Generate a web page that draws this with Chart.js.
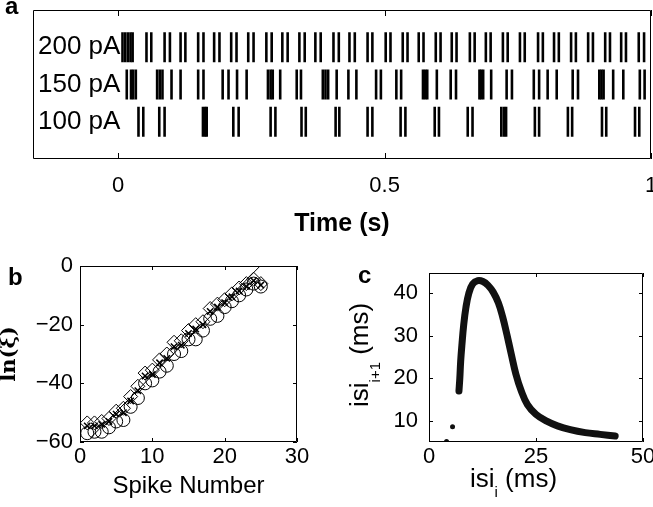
<!DOCTYPE html>
<html>
<head>
<meta charset="utf-8">
<script src="https://cdn.jsdelivr.net/npm/chart.js@4.4.1/dist/chart.umd.min.js"></script>
<style>
  body { margin: 0; background: #fff; }
  #wrap { position: relative; width: 653px; height: 507px; }
  #wrap canvas { position: absolute; left: 0; top: 0; }
</style>
</head>
<body>
<div id="wrap">
  <canvas id="rasterChart" width="653" height="507"></canvas>
  <canvas id="lnChart" width="653" height="507"></canvas>
  <canvas id="isiChart" width="653" height="507"></canvas>
</div>
<script>
// ---- panel a: spike times (s) per injected current ----
const rowLabels = ['100 pA', '150 pA', '200 pA'];
const timeTicks = [0, 0.5, 1];
const spikes200 = [0.008, 0.013, 0.018, 0.023, 0.027, 0.053, 0.062, 0.087, 0.097, 0.117, 0.126,
  0.150, 0.160, 0.180, 0.190, 0.212, 0.222, 0.244, 0.254, 0.278, 0.288, 0.308, 0.318, 0.340, 0.350,
  0.370, 0.380, 0.404, 0.414, 0.434, 0.444, 0.468, 0.477, 0.502, 0.511, 0.534, 0.543, 0.564, 0.573,
  0.596, 0.605, 0.626, 0.635, 0.660, 0.669, 0.690, 0.699, 0.722, 0.731, 0.754, 0.763, 0.788, 0.797,
  0.818, 0.827, 0.850, 0.859, 0.882, 0.891, 0.914, 0.923, 0.944, 0.953, 0.977, 0.987];
const spikes150 = [0.016, 0.024, 0.028, 0.033, 0.073, 0.078, 0.083, 0.100, 0.117, 0.150, 0.160,
  0.196, 0.207, 0.223, 0.241, 0.281, 0.286, 0.290, 0.304, 0.335, 0.343, 0.384, 0.389, 0.394, 0.410,
  0.432, 0.447, 0.484, 0.493, 0.522, 0.531, 0.572, 0.576, 0.580, 0.598, 0.624, 0.634, 0.678, 0.681,
  0.685, 0.700, 0.729, 0.739, 0.780, 0.790, 0.806, 0.823, 0.853, 0.863, 0.903, 0.907, 0.911, 0.929,
  0.948, 0.979, 0.988];
const spikes100 = [0.038, 0.047, 0.077, 0.087, 0.159, 0.163, 0.166, 0.216, 0.226, 0.286, 0.295,
  0.344, 0.352, 0.408, 0.415, 0.468, 0.477, 0.530, 0.539, 0.594, 0.602, 0.656, 0.665, 0.719, 0.724,
  0.728, 0.782, 0.790, 0.844, 0.852, 0.908, 0.916, 0.970, 0.978];

// ---- panel b: ln(xi) vs spike number ----
const spikeNumber = [1, 2, 3, 4, 5, 6, 7, 8, 9, 10, 11, 12, 13, 14, 15, 16, 17, 18, 19, 20, 21, 22, 23, 24, 25];
const lnCircle = [-57, -56.5, -56.5, -55, -53, -52.5, -48, -45, -40, -39, -36, -34, -30, -29, -25,
  -25, -22, -18, -17, -14, -12, -10, -8, -6, -7];
const lnDiamond = [-53.5, -53.5, -53, -52, -49.5, -48.5, -44.5, -41, -36.5, -35.5, -32, -30, -26,
  -25.5, -22, -20, -19, -14.5, -13, -11.5, -9.5, -7.5, -6, -4.5, -6];
const lnCross = [-54.5, -54.5, -54, -53, -50.5, -50, -46, -42.5, -37.5, -37, -33, -31.5, -27.5,
  -27, -23, -21.5, -20, -15.5, -14, -12.5, -10.5, -8.5, -7, -5, -6.5];
const fitX = [1.5, 25.5];
const fitY = [-58.5, 1.5];

// ---- panel c: return map isi(i) -> isi(i+1), ms ----
const isiNow = [7.0, 7.2, 7.4, 7.7, 8.1, 8.6, 9.3, 10.2, 11.4, 12.6, 13.8, 15.0, 16.2, 17.2, 18.2,
  19.2, 20.3, 21.5, 23.0, 25.0, 27.5, 30.0, 33.0, 36.5, 40.0, 43.5];
const isiNext = [17.0, 20.0, 24.0, 28.0, 32.5, 36.5, 40.0, 42.2, 43.0, 42.8, 41.9, 40.3, 37.8, 34.5,
  30.3, 25.8, 21.0, 17.2, 13.8, 11.5, 9.9, 8.8, 7.9, 7.2, 6.8, 6.4];
const isiDotNow = [4.1, 5.5];
const isiDotNext = [5.1, 8.6];
const isiXTicks = [0, 25, 50];
const isiYTicks = [10, 20, 30, 40];

const sans = '"Liberation Sans", Arial, Helvetica, sans-serif';
Chart.defaults.font.family = sans;
Chart.defaults.color = '#000';

const pts = (xs, ys) => xs.map((x, i) => ({ x, y: ys[i] }));
const row = (times, level) => times.map(t => ({ x: t, y: level }));
const minus = v => String(v).replace('-', '\u2212');

// force an axis box to a fixed thickness, no auto padding
function fixSize(size) {
  return scale => {
    if (scale.isHorizontal()) scale.height = size;
    else scale.width = size;
    scale.paddingLeft = scale.paddingRight = scale.paddingTop = scale.paddingBottom = 0;
  };
}
const setTicks = values => scale => { scale.ticks = values.map(v => ({ value: v })); };

// box around plot area with inward tick marks
const framePlugin = {
  id: 'frame',
  afterDatasetsDraw(chart, args, opts) {
    const { ctx, chartArea: a, scales: { x, y } } = chart;
    const len = opts.tickLength || 5;
    ctx.save();
    ctx.strokeStyle = '#000';
    ctx.lineWidth = 1;
    ctx.beginPath();
    ctx.rect(Math.round(a.left) + 0.5, Math.round(a.top) + 0.5, Math.round(a.width) - 1, Math.round(a.height) - 1);
    x.ticks.forEach(t => {
      const px = Math.round(x.getPixelForValue(t.value)) + 0.5;
      ctx.moveTo(px, a.bottom); ctx.lineTo(px, a.bottom - len);
      ctx.moveTo(px, a.top); ctx.lineTo(px, a.top + len);
    });
    if (opts.yTicks) {
      y.ticks.forEach(t => {
        const py = Math.round(y.getPixelForValue(t.value)) + 0.5;
        ctx.moveTo(a.left, py); ctx.lineTo(a.left + len, py);
        ctx.moveTo(a.right, py); ctx.lineTo(a.right - len, py);
      });
    }
    ctx.stroke();
    ctx.restore();
  }
};

// free text: panel letters and labels with subscripts
const notesPlugin = {
  id: 'notes',
  afterDraw(chart, args, opts) {
    const ctx = chart.ctx;
    (opts.items || []).forEach(item => {
      ctx.save();
      ctx.translate(item.x, item.y);
      if (item.rotate) ctx.rotate(item.rotate);
      ctx.fillStyle = '#000';
      ctx.textBaseline = 'alphabetic';
      let cx = 0;
      item.runs.forEach(r => {
        ctx.font = `${r.weight || 'normal'} ${r.size}px ${sans}`;
        ctx.fillText(r.text, cx, r.dy || 0);
        cx += ctx.measureText(r.text).width;
      });
      ctx.restore();
    });
  }
};

const base = {
  responsive: false,
  animation: false,
  events: [],
  plugins: { legend: { display: false }, tooltip: { enabled: false } }
};

const spikeStyle = {
  pointStyle: 'line',
  pointRotation: 90,
  pointRadius: 15,
  pointBorderWidth: 2.6,
  pointBorderColor: '#000',
  borderColor: '#000'
};

// panel a
new Chart(document.getElementById('rasterChart'), {
  type: 'scatter',
  data: {
    datasets: [
      { data: row(spikes200, 3), ...spikeStyle },
      { data: row(spikes150, 2), ...spikeStyle },
      { data: row(spikes100, 1), ...spikeStyle }
    ]
  },
  options: {
    ...base,
    layout: { autoPadding: false, padding: { left: 33, top: 10, right: 2, bottom: 268 } },
    scales: {
      x: {
        type: 'linear', min: -0.16, max: 1,
        afterBuildTicks: setTicks(timeTicks),
        afterFit: fixSize(80),
        grid: { display: false, drawTicks: false },
        border: { display: false },
        ticks: { font: { size: 22 }, padding: 14, maxRotation: 0, callback: v => String(v) },
        title: { display: true, text: 'Time (s)', font: { size: 25, weight: 'bold' }, padding: { top: 0, bottom: 0 } }
      },
      y: {
        type: 'linear', min: 0, max: 4,
        afterBuildTicks: setTicks([1, 2, 3]),
        afterFit: fixSize(0),
        grid: { display: false, drawTicks: false },
        border: { display: false },
        ticks: { mirror: true, padding: 5, font: { size: 26 }, callback: v => rowLabels[v - 1] }
      }
    },
    plugins: {
      ...base.plugins,
      frame: { tickLength: 6, yTicks: false },
      notes: { items: [{ x: 5, y: 14, runs: [{ text: 'a', size: 24, weight: 'bold' }] }] }
    }
  },
  plugins: [framePlugin, notesPlugin]
});

// panel b
new Chart(document.getElementById('lnChart'), {
  type: 'scatter',
  data: {
    datasets: [
      { data: pts(spikeNumber, lnCross), pointStyle: 'crossRot', pointRadius: 4.5, pointBorderWidth: 1.5,
        pointBorderColor: '#000', pointBackgroundColor: 'transparent' },
      { data: pts(spikeNumber, lnDiamond), pointStyle: 'rectRot', pointRadius: 7, pointBorderWidth: 1,
        pointBorderColor: '#000', pointBackgroundColor: 'transparent' },
      { data: pts(spikeNumber, lnCircle), pointStyle: 'circle', pointRadius: 6.5, pointBorderWidth: 1,
        pointBorderColor: '#000', pointBackgroundColor: 'transparent' },
      { data: pts(fitX, fitY), showLine: true, borderColor: '#000', borderWidth: 1, pointRadius: 0 }
    ]
  },
  options: {
    ...base,
    layout: { autoPadding: false, padding: { left: 0, top: 266, right: 356, bottom: 0 } },
    scales: {
      x: {
        type: 'linear', min: 0, max: 30,
        afterBuildTicks: setTicks([0, 10, 20, 30]),
        afterFit: fixSize(65),
        grid: { display: false, drawTicks: false },
        border: { display: false },
        ticks: { font: { size: 22 }, padding: 2, maxRotation: 0 },
        title: { display: true, text: 'Spike Number', font: { size: 24 }, padding: { top: 0, bottom: 6 } }
      },
      y: {
        type: 'linear', min: -60, max: 0,
        afterBuildTicks: setTicks([-60, -40, -20, 0]),
        afterFit: fixSize(80),
        grid: { display: false, drawTicks: false },
        border: { display: false },
        ticks: { font: { size: 22 }, padding: 7, callback: minus },
        title: { display: true, text: 'ln(\u03BE)', padding: { top: 0, bottom: 0 },
          font: { family: '"DejaVu Serif", "Liberation Serif", serif', size: 21, weight: 'bold', lineHeight: 0.9 } }
      }
    },
    plugins: {
      ...base.plugins,
      frame: { tickLength: 4, yTicks: true },
      notes: { items: [{ x: 8, y: 285, runs: [{ text: 'b', size: 24, weight: 'bold' }] }] }
    }
  },
  plugins: [framePlugin, notesPlugin]
});

// panel c
new Chart(document.getElementById('isiChart'), {
  type: 'scatter',
  data: {
    datasets: [
      { data: pts(isiNow, isiNext), showLine: true, borderColor: '#111', borderWidth: 7, tension: 0.4,
        borderCapStyle: 'round', borderJoinStyle: 'round', pointRadius: 0 },
      { data: pts(isiDotNow, isiDotNext), pointRadius: 2.5, pointBorderWidth: 0,
        pointBackgroundColor: '#111' }
    ]
  },
  options: {
    ...base,
    layout: { autoPadding: false, padding: { left: 380, top: 273, right: 10, bottom: 0 } },
    scales: {
      x: {
        type: 'linear', min: 0, max: 50,
        afterBuildTicks: setTicks(isiXTicks),
        afterFit: fixSize(65),
        grid: { display: false, drawTicks: false },
        border: { display: false },
        ticks: { font: { size: 22 }, padding: 2, maxRotation: 0 }
      },
      y: {
        type: 'linear', min: 5, max: 44.8,
        afterBuildTicks: setTicks(isiYTicks),
        afterFit: fixSize(49),
        grid: { display: false, drawTicks: false },
        border: { display: false },
        ticks: { font: { size: 22 }, padding: 11 }
      }
    },
    plugins: {
      ...base.plugins,
      frame: { tickLength: 4, yTicks: true },
      notes: {
        items: [
          { x: 358, y: 283, runs: [{ text: 'c', size: 24, weight: 'bold' }] },
          { x: 368, y: 407, rotate: -Math.PI / 2, runs: [
            { text: 'isi', size: 26 }, { text: 'i+1', size: 15, dy: 12 }, { text: ' (ms)', size: 26 }] },
          { x: 470, y: 487, runs: [
            { text: 'isi', size: 26 }, { text: 'i', size: 15, dy: 10 }, { text: ' (ms)', size: 26 }] }
        ]
      }
    }
  },
  plugins: [framePlugin, notesPlugin]
});
</script>
</body>
</html>
